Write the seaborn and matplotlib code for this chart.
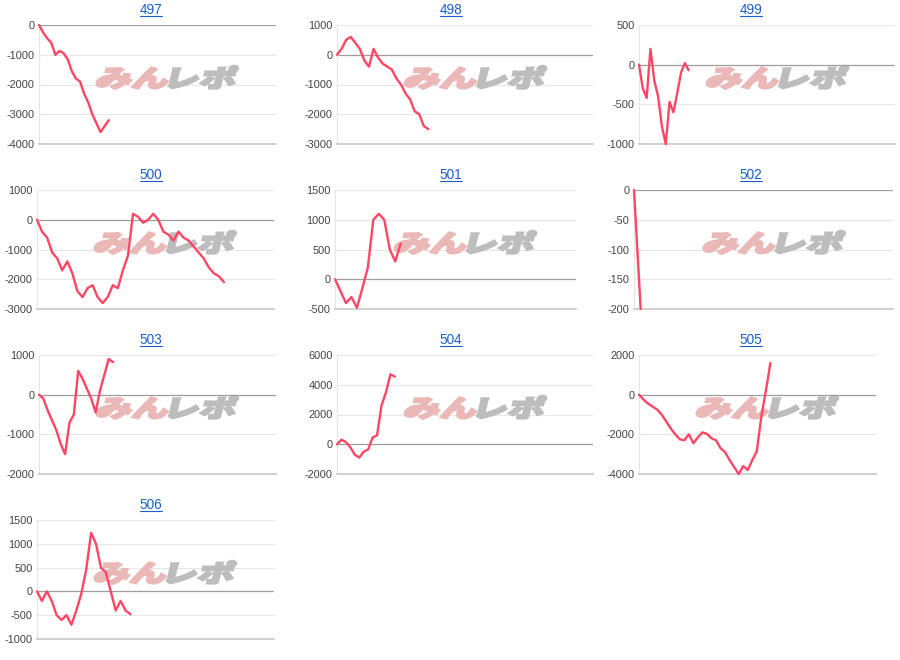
import numpy as np
import pandas as pd
import seaborn as sns
import matplotlib.pyplot as plt
from matplotlib.textpath import TextPath
from matplotlib.patches import PathPatch
from matplotlib.font_manager import FontProperties
from matplotlib.transforms import Affine2D, IdentityTransform
from matplotlib.lines import Line2D
from matplotlib.path import Path

## data
titles = ['497', '498', '499', '500', '501', '502', '503', '504', '505', '506']

s497 = [0, -250, -450, -600, -1000, -870, -950, -1150, -1550, -1800, -1900, -2300,
        -2600, -3000, -3300, -3600, -3400, -3200]
s498 = [0, 200, 500, 600, 400, 200, -200, -400, 200, -100, -300, -400, -500, -800,
        -1000, -1300, -1500, -1900, -2000, -2400, -2500]
s499 = [0, -300, -420, 200, -200, -400, -780, -1000, -470, -600, -360, -100, 20, -70]
s500 = [0, -400, -600, -1100, -1300, -1700, -1400, -1800, -2400, -2600, -2300, -2200,
        -2600, -2800, -2600, -2200, -2300, -1700, -1200, 200, 100, -100, 0, 200, 0,
        -400, -500, -700, -400, -600, -700, -900, -1100, -1300, -1600, -1800, -1900, -2100]
s501 = [0, -200, -400, -300, -480, -150, 200, 1000, 1100, 1000, 500, 300, 600]
s502 = [0, -200]
s503 = [0, -100, -400, -650, -900, -1250, -1500, -700, -500, 600, 400, 150, -100,
        -450, 100, 500, 900, 820]
s504 = [0, 300, 150, -200, -700, -900, -500, -350, 450, 600, 2600, 3500, 4700, 4550]
s505 = [0, -250, -450, -600, -750, -1000, -1350, -1700, -2000, -2250, -2300, -2000,
        -2450, -2150, -1900, -1980, -2200, -2300, -2700, -2900, -3300, -3650, -4000,
        -3600, -3800, -3300, -2850, -1100, 200, 1600]
s506 = [0, -200, 0, -200, -500, -600, -500, -700, -400, -50, 450, 1230, 1000, 500,
        400, 0, -400, -200, -400, -480]
series = [s497, s498, s499, s500, s501, s502, s503, s504, s505, s506]

y_top = [0, 1000, 500, 1000, 1500, 0, 1000, 6000, 2000, 1500]
y_bottom = [-4000, -3000, -1000, -3000, -500, -200, -2000, -2000, -4000, -1000]
y_step = [1000, 1000, 500, 1000, 500, 50, 1000, 2000, 2000, 500]
x_max = [57.8, 56, 67, 46.9, 44, 38.8, 54.4, 57.5, 52.3, 48.2]

## layout (pixels)
W, H = 900, 660
left_px = [39, 337, 639, 37, 335, 634, 39, 337, 639, 37]
right_px = [276, 593, 895, 274, 576, 893, 276, 593, 876, 274]
row_h = 165
plot_top, plot_h = 25, 119

line_color = '#ff4664'
link_color = '#1a5fcc'

sns.set_style('white')
plt.rcParams['font.family'] = ['Liberation Sans', 'DejaVu Sans']
plt.rcParams['axes.unicode_minus'] = False

fig = plt.figure(figsize=(W / 100, H / 100), dpi=100)
fig.patch.set_facecolor('white')


def watermark(ax):
    # logo drawn as skewed, stretched text outlines
    fp = FontProperties(family='Noto Sans CJK JP', weight='black')
    p1 = TextPath((0, 0), 'みん', size=10, prop=fp)
    b1 = p1.get_extents()
    p2 = TextPath((0, 0), 'レポ', size=10, prop=fp)
    b2 = p2.get_extents()
    p2 = Path(p2.vertices + [b1.x1 - b2.x0 + 0.6, 0], p2.codes)
    x0 = min(b1.x0, p2.get_extents().x0)
    x1 = max(b1.x1, p2.get_extents().x1)
    y0 = min(b1.y0, b2.y0)
    y1 = max(b1.y1, b2.y1)
    tw, th = 138, 23
    cx, cy = ax.transAxes.transform((0.54, 0.56))
    tr = (Affine2D().translate(-x0, -y0).scale(tw / (x1 - x0), th / (y1 - y0))
          .skew_deg(14, 0).translate(cx - tw / 2 - th * 0.125, cy - th / 2))
    for p, c in [(p1, '#ebb8b8'), (p2, '#bdbdbd')]:
        patch = PathPatch(p, transform=tr, facecolor=c, edgecolor=c, lw=1.6,
                          joinstyle='miter', zorder=1, clip_on=False)
        ax.add_artist(patch)


renderer = fig.canvas.get_renderer()
for i, (name, vals) in enumerate(zip(titles, series)):
    row, col = divmod(i, 3)
    top = row * row_h + plot_top
    ax = fig.add_axes([left_px[i] / W, 1 - (top + plot_h) / H,
                       (right_px[i] - left_px[i]) / W, plot_h / H])
    ax.set_facecolor('none')
    df = pd.DataFrame({'x': np.arange(len(vals)), 'y': vals})
    watermark(ax)
    sns.lineplot(data=df, x='x', y='y', ax=ax, color=line_color, lw=1.7,
                 zorder=5, clip_on=False)
    ax.set_xlim(0, x_max[i])
    ax.set_ylim(y_bottom[i], y_top[i])
    ticks = np.arange(y_bottom[i], y_top[i] + y_step[i], y_step[i])
    ax.set_yticks(ticks)
    ax.set_xticks([])
    ax.set(xlabel='', ylabel='')
    for t in ticks:
        if t == 0:
            ax.axhline(0, color='#9e9e9e', lw=0.9, zorder=2)
        elif t != y_bottom[i]:
            ax.axhline(t, color='#e6e6e6', lw=0.8, zorder=0)
    for s in ['top', 'right']:
        ax.spines[s].set_visible(False)
    ax.spines['bottom'].set_color('#cccccc')
    ax.spines['bottom'].set_linewidth(1.3)
    ax.spines['left'].set_color('#e6e6e6')
    ax.spines['left'].set_linewidth(0.8)
    ax.tick_params(axis='y', length=0, pad=3, labelsize=7.9, labelcolor='#444444')

    # linked title
    ty = H - (row * row_h + 14)
    txt = fig.text((col * 300 + 151) / W, ty / H, name, ha='center', va='baseline',
                   fontsize=9.8, color=link_color)
    bb = txt.get_window_extent(renderer)
    fig.add_artist(Line2D([bb.x0, bb.x1], [ty - 1.8, ty - 1.8], color=link_color,
                          lw=0.8, transform=IdentityTransform()))

fig.savefig('out.png', dpi=100)
